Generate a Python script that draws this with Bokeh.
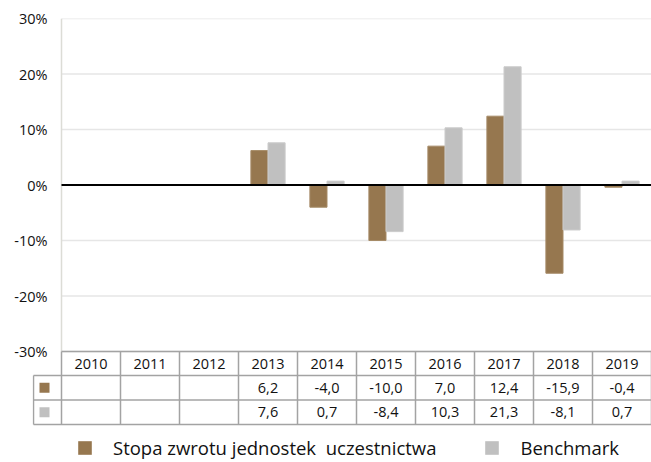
import numpy as np
from bokeh.plotting import figure
from bokeh.models import (ColumnDataSource, Range1d, FixedTicker,
                          PrintfTickFormatter, Legend, LegendItem)
from bokeh.transform import dodge
from bokeh.core.properties import value
from bokeh.embed import file_html
from bokeh.resources import INLINE

# ---------------- data ----------------
years = ["2010", "2011", "2012", "2013", "2014", "2015", "2016", "2017", "2018", "2019"]
fund = [None, None, None, 6.2, -4.0, -10.0, 7.0, 12.4, -15.9, -0.4]
bench = [None, None, None, 7.6, 0.7, -8.4, 10.3, 21.3, -8.1, 0.7]
y_ticks = [-30, -20, -10, 0, 10, 20, 30]
series_names = ["Stopa zwrotu jednostek  uczestnictwa", "Benchmark"]

# ---------------- style / layout ----------------
FONT = "Open Sans"
BROWN = "#96774f"
BROWN_EDGE = "#a68b67"
GREY = "#c0c0c0"
GREY_EDGE = "#cbcbcb"
TBL = "#a3a3a3"
GRID = "#e6e6e6"
TXT = "#111111"

W, H = 651, 461
PLOT_LEFT = 61        # left edge of the bar area (px)
KEY_W = 28            # key column width (px)
LEFT = PLOT_LEFT - KEY_W - 1
TOP = 18
PLOT_H = 333          # px between top and bottom tick
HEAD_H = 24           # header row height (px)
ROW_H = 24.5          # table body row height (px)
BAR_W = 0.29
n = len(years)
COLW = (W - PLOT_LEFT) / n

ymax, ymin = max(y_ticks), min(y_ticks)
PX = PLOT_H / (ymax - ymin)
y_head = ymin - HEAD_H / PX
y_r1 = y_head - ROW_H / PX
y_r2 = y_r1 - ROW_H / PX
FRAME_H = H - TOP
y_lo = ymin - (FRAME_H - PLOT_H) / PX
key_x0 = -KEY_W / COLW
key_sq_x = -17 / COLW

fund_a = np.array([np.nan if v is None else v for v in fund], dtype=float)
bench_a = np.array([np.nan if v is None else v for v in bench], dtype=float)
xc = [i + 0.5 for i in range(n)]


def fmt(v):
    return f"{v:.1f}".replace(".", ",")


src = ColumnDataSource(dict(xc=xc, year=years, fund=fund_a, bench=bench_a))

p = figure(width=W, height=H,
           x_range=Range1d(-(KEY_W + 1) / COLW, n), y_range=Range1d(y_lo, ymax),
           output_backend="svg", toolbar_location=None,
           x_axis_location=None,
           min_border_left=LEFT, min_border_right=0,
           min_border_top=TOP, min_border_bottom=0,
           outline_line_color=None)

p.grid.visible = False

ax = p.yaxis[0]
ax.ticker = FixedTicker(ticks=y_ticks)
ax.formatter = PrintfTickFormatter(format="%d%%")
ax.major_tick_line_color = None
ax.minor_tick_line_color = None
ax.major_tick_out = 0
ax.major_tick_in = 0
ax.axis_line_color = None
ax.major_label_standoff = -15
ax.major_label_text_font = FONT
ax.major_label_text_font_size = "14.5px"
ax.major_label_text_color = TXT

# horizontal grid lines of the bar area
p.segment(x0=[0] * len(y_ticks), y0=y_ticks, x1=[n] * len(y_ticks), y1=y_ticks,
          line_color=GRID, line_width=1.5)
# left edge of the bar area
p.segment(x0=[0], y0=[ymin], x1=[0], y1=[ymax], line_color="#dcdcd6", line_width=1.5)

# bars
r_f = p.vbar(x=dodge("xc", -BAR_W / 2), top="fund", bottom=0, width=BAR_W, source=src,
             fill_color=BROWN, line_color=BROWN_EDGE, line_width=1)
r_b = p.vbar(x=dodge("xc", BAR_W / 2), top="bench", bottom=0, width=BAR_W, source=src,
             fill_color=GREY, line_color=GREY_EDGE, line_width=1)

# zero line
p.segment(x0=[0], y0=[0], x1=[n], y1=[0], line_color="black", line_width=2)

# table grid
bnd = list(range(n + 1))
p.segment(x0=[0, key_x0, key_x0, key_x0], y0=[ymin, y_head, y_r1, y_r2],
          x1=[n] * 4, y1=[ymin, y_head, y_r1, y_r2], line_color=TBL, line_width=1.5)
p.segment(x0=bnd, y0=[ymin] * len(bnd), x1=bnd, y1=[y_r2] * len(bnd),
          line_color=TBL, line_width=1.5)
p.segment(x0=[key_x0], y0=[y_head], x1=[key_x0], y1=[y_r2], line_color=TBL, line_width=1.5)

# key squares of the table rows
k_f = p.rect(x=[key_sq_x], y=[(y_head + y_r1) / 2], width=10, height=10,
             width_units="screen", height_units="screen", fill_color=BROWN, line_color=None)
k_b = p.rect(x=[key_sq_x], y=[(y_r1 + y_r2) / 2], width=10, height=10,
             width_units="screen", height_units="screen", fill_color=GREY, line_color=None)

# table texts
p.text(x="xc", y=(ymin + y_head) / 2, text="year", source=src,
       text_align="center", text_baseline="middle",
       text_font=value(FONT), text_font_size="14.5px", text_color=TXT)

f_idx = [i for i, v in enumerate(fund) if v is not None]
b_idx = [i for i, v in enumerate(bench) if v is not None]
src_f = ColumnDataSource(dict(x=[xc[i] for i in f_idx], t=[fmt(fund[i]) for i in f_idx]))
src_b = ColumnDataSource(dict(x=[xc[i] for i in b_idx], t=[fmt(bench[i]) for i in b_idx]))
p.text(x="x", y=(y_head + y_r1) / 2, text="t", source=src_f,
       text_align="center", text_baseline="middle",
       text_font=value(FONT), text_font_size="14.5px", text_color=TXT)
p.text(x="x", y=(y_r1 + y_r2) / 2, text="t", source=src_b,
       text_align="center", text_baseline="middle",
       text_font=value(FONT), text_font_size="14.5px", text_color=TXT)

legend = Legend(items=[LegendItem(label=series_names[0], renderers=[k_f]),
                       LegendItem(label=series_names[1], renderers=[k_b])],
                orientation="horizontal", location=(44, 1),
                glyph_width=17, glyph_height=17, label_standoff=20, spacing=47,
                padding=0, margin=0, border_line_color=None, background_fill_alpha=0,
                label_text_font=FONT, label_text_font_size="18.5px", label_text_color=TXT)
p.add_layout(legend)

open("out.html", "w").write(file_html(p, INLINE))
